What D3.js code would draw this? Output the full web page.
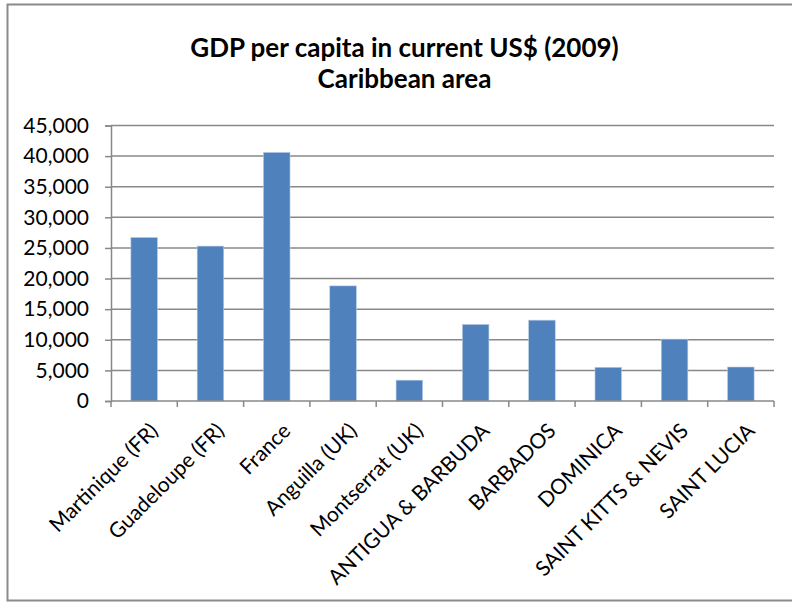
<!DOCTYPE html>
<html>
<head>
<meta charset="utf-8">
<script src="https://cdn.jsdelivr.net/npm/d3@7"></script>
<style>
  html, body { margin: 0; padding: 0; background: #fff; }
  svg { display: block; }
</style>
</head>
<body>
<div class="chart"></div>
<script>
// chart data
const countries = ["Martinique (FR)", "Guadeloupe (FR)", "France", "Anguilla (UK)", "Montserrat (UK)",
    "ANTIGUA & BARBUDA", "BARBADOS", "DOMINICA", "SAINT KITTS & NEVIS", "SAINT LUCIA"];
const gdpPerCapita = [26700, 25300, 40600, 18800, 3400, 12500, 13200, 5500, 10100, 5550];
const yTicks = [0, 5000, 10000, 15000, 20000, 25000, 30000, 35000, 40000, 45000];
const titleLines = ["GDP per capita in current US$ (2009)", "Caribbean area"];

let WIDTH = 792,
    HEIGHT = 602,
    LEFT = 111,
    RIGHT = 774,
    TOP = 125.5,
    BOTTOM = 401;

let svg = d3.select(".chart")
    .append("svg")
    .attr("width", WIDTH)
    .attr("height", HEIGHT);

//outer frame of the chart area (right side runs off the picture)
svg.append("rect")
    .attr("x", 7.5)
    .attr("y", 4.5)
    .attr("width", 794)
    .attr("height", 596)
    .attr("fill", "#fff")
    .attr("stroke", "#8a8a8a")
    .attr("stroke-width", 2);

//title
svg.append("g")
    .selectAll("text")
    .data(titleLines)
    .enter()
    .append("text")
    .attr("x", 404.5)
    .attr("y", (d, i) => 57 + i * 31)
    .attr("text-anchor", "middle")
    .attr("font-family", "Lato")
    .attr("font-weight", "bold")
    .attr("font-size", "26px")
    .attr("fill", "#000")
    .text(d => d);

let xScale = d3.scaleBand().domain(countries).range([LEFT, RIGHT]).padding(0);
let yScale = d3.scaleLinear().domain([0, 45000]).range([BOTTOM, TOP]);

//gridlines
svg.append("g")
    .selectAll("line")
    .data(yTicks.slice(1))
    .enter()
    .append("line")
    .attr("x1", LEFT)
    .attr("x2", RIGHT)
    .attr("y1", d => yScale(d))
    .attr("y2", d => yScale(d))
    .attr("stroke", "#888")
    .attr("stroke-width", 1.5);

//bars, 40% of the category width
let barWidth = xScale.bandwidth() * 0.4;
svg.append("g")
    .selectAll("rect")
    .data(countries)
    .enter()
    .append("rect")
    .attr("x", d => xScale(d) + (xScale.bandwidth() - barWidth) / 2)
    .attr("y", (d, i) => yScale(gdpPerCapita[i]))
    .attr("width", barWidth)
    .attr("height", (d, i) => BOTTOM - yScale(gdpPerCapita[i]))
    .attr("fill", "#4F81BD")
    .attr("stroke", "#B4C8E2")
    .attr("stroke-width", 0.6);

//y axis
let yAxis = svg.append("g")
    .attr("transform", `translate(${LEFT}, 0)`)
    .call(d3.axisLeft(yScale).tickValues(yTicks).tickFormat(d3.format(",")).tickSize(6).tickPadding(16));
yAxis.select(".domain").attr("stroke", "#888").attr("stroke-width", 1.5);
yAxis.selectAll(".tick line").attr("stroke", "#888").attr("stroke-width", 1.5);
yAxis.selectAll(".tick text")
    .attr("font-family", "Lato")
    .attr("font-size", "21px")
    .attr("fill", "#000");

//x axis, ticks sit on the category boundaries
let boundaries = countries.map(d => xScale(d)).concat([RIGHT]);
let xAxis = svg.append("g");
xAxis.append("line")
    .attr("x1", LEFT)
    .attr("x2", RIGHT)
    .attr("y1", BOTTOM)
    .attr("y2", BOTTOM)
    .attr("stroke", "#888")
    .attr("stroke-width", 1.5);
xAxis.selectAll(".xtick")
    .data(boundaries)
    .enter()
    .append("line")
    .attr("x1", d => d)
    .attr("x2", d => d)
    .attr("y1", BOTTOM)
    .attr("y2", BOTTOM + 6)
    .attr("stroke", "#888")
    .attr("stroke-width", 1.5);

xAxis.selectAll(".xlabel")
    .data(countries)
    .enter()
    .append("text")
    .attr("transform", d => `translate(${xScale(d) + xScale.bandwidth() / 2 + 4}, ${BOTTOM + 20}) rotate(-45)`)
    .attr("text-anchor", "end")
    .attr("dy", "0.75em")
    .attr("font-family", "Lato")
    .attr("font-size", "21px")
    .attr("fill", "#000")
    .text(d => d);
</script>
</body>
</html>
